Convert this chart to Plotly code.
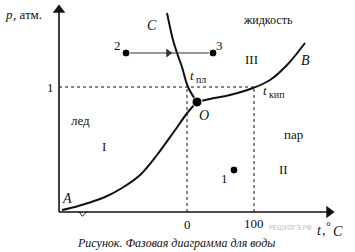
import plotly.graph_objects as go

# Schematic phase diagram of water (t in °C, p in atm)
melt_t = [-29.9, -20.9, -14.9, -7.5, 1.5, 14.9]
melt_p = [1.592, 1.376, 1.272, 1.16, 1.0, 0.88]
subl_t = [-186.6, -167.2, -147.8, -122.4, -97.0, -70.1, -44.8, -20.9, 1.5, 14.9]
subl_p = [0.016, 0.04, 0.072, 0.12, 0.192, 0.296, 0.456, 0.632, 0.8, 0.88]
boil_t = [14.9, 34.3, 64.2, 98.5, 123.9, 149.3, 176.1]
boil_p = [0.88, 0.904, 0.936, 0.992, 1.056, 1.176, 1.352]
triple = (14.9, 0.88)
state_pts = {"1": (70.1, 0.336), "2": (-91.0, 1.272), "3": (38.8, 1.272)}
x_ticks = [0, 100]
y_ticks = [1]
axis_t0, axis_t1 = -191.0, 218.0
axis_p1 = 1.656

X0, X1 = -279.1, 250.7
Y0, Y1 = -0.32, 1.696
INK = "#111111"
SERIF = "Liberation Serif, Times New Roman, serif"

def px2x(px):
    return X0 + (X1 - X0) * px / 355.0
def py2y(py):
    return Y1 - (Y1 - Y0) * py / 252.0

fig = go.Figure()
# axes
fig.add_trace(go.Scatter(x=[axis_t0, axis_t1 - 4], y=[0, 0], mode="lines",
                         line=dict(color=INK, width=1.6), showlegend=False, hoverinfo="skip"))
fig.add_trace(go.Scatter(x=[axis_t0, axis_t0], y=[0, axis_p1 - 0.03], mode="lines",
                         line=dict(color=INK, width=1.6), showlegend=False, hoverinfo="skip"))
fig.add_trace(go.Scatter(x=[axis_t1 - 6], y=[0], mode="markers",
                         marker=dict(symbol="triangle-right", size=11, color=INK),
                         showlegend=False, hoverinfo="skip"))
fig.add_trace(go.Scatter(x=[axis_t0], y=[axis_p1 - 0.04], mode="markers",
                         marker=dict(symbol="triangle-up", size=11, color=INK),
                         showlegend=False, hoverinfo="skip"))
# phase curves
for tx, py in [(melt_t, melt_p), (subl_t, subl_p), (boil_t, boil_p)]:
    fig.add_trace(go.Scatter(x=tx, y=py, mode="lines",
                             line=dict(color=INK, width=2, shape="spline", smoothing=1.0),
                             hoverinfo="skip", showlegend=False))
# dotted guides
fig.add_trace(go.Scatter(x=[axis_t0, x_ticks[1]], y=[y_ticks[0], y_ticks[0]], mode="lines",
                         line=dict(color=INK, width=1, dash="dot"), showlegend=False))
for xt in x_ticks:
    fig.add_trace(go.Scatter(x=[xt, xt], y=[0, y_ticks[0]], mode="lines",
                             line=dict(color=INK, width=1, dash="dot"), showlegend=False))
# process 2 -> 3 with arrowhead mid-way
fig.add_trace(go.Scatter(x=[state_pts["2"][0], state_pts["3"][0]],
                         y=[state_pts["2"][1], state_pts["3"][1]], mode="lines",
                         line=dict(color="#333", width=1.2), showlegend=False))
fig.add_trace(go.Scatter(x=[-28.0], y=[state_pts["2"][1]], mode="markers",
                         marker=dict(symbol="triangle-right", size=8, color="#333"),
                         showlegend=False))
# points
fig.add_trace(go.Scatter(x=[state_pts[k][0] for k in state_pts] + [triple[0]],
                         y=[state_pts[k][1] for k in state_pts] + [triple[1]],
                         mode="markers", marker=dict(color="#000000", size=[8, 8, 8, 10], opacity=1),
                         showlegend=False))
# axis break squiggle
fig.add_trace(go.Scatter(x=[-163, -159, -157, -155, -152, -149],
                         y=[0.0, -0.01, -0.03, -0.03, -0.01, 0.0], mode="lines",
                         line=dict(color=INK, width=1, shape="spline"), showlegend=False))

anns = []
def label(x, y, text, size=13, xanchor="center", italic=False, color=INK, family=SERIF):
    anns.append(dict(x=x, y=y, xref="x", yref="y", text=text, showarrow=False,
                     xanchor=xanchor, yanchor="middle", borderpad=0,
                     font=dict(family=family, size=size, color=color,
                               style="italic" if italic else "normal")))

# axis titles (italic symbol + plain rest)
label(px2x(4), py2y(14), "p", size=13, xanchor="left", italic=True)
label(px2x(12), py2y(14), ", атм.", size=13, xanchor="left")
label(px2x(316), py2y(230), "t", size=14, xanchor="left", italic=True)
label(px2x(321), py2y(230), ",", size=14, xanchor="left")
label(px2x(325), py2y(226), "°", size=12, xanchor="left")
label(px2x(332), py2y(231), "C", size=14, xanchor="left", italic=True)
# ticks
label(px2x(55), y_ticks[0], "1", size=13, xanchor="right")
label(x_ticks[0], py2y(224), "0", size=13)
label(x_ticks[1], py2y(223), "100", size=13)
label(px2x(313), py2y(228), "РЕШУОГЭ.РФ", size=7, color="#bbbbbb",
      xanchor="right", family="DejaVu Sans Condensed, DejaVu Sans")
# region/curve labels
label(px2x(152), py2y(25), "C", size=14, italic=True)
label(px2x(268), py2y(20), "жидкость", size=12)
label(px2x(117), py2y(45), "2", size=13)
label(px2x(219), py2y(45), "3", size=13)
label(px2x(251), py2y(59), "III", size=13)
label(px2x(305), py2y(60), "B", size=14, italic=True)
label(px2x(189), py2y(75), "t", size=13, xanchor="left", italic=True)
label(px2x(195), py2y(79), "пл", size=10, xanchor="left")
label(px2x(262), py2y(90), "t", size=13, xanchor="left", italic=True)
label(px2x(268), py2y(94), "кип", size=10, xanchor="left")
label(px2x(204), py2y(115), "O", size=14, italic=True)
label(px2x(80), py2y(120), "лед", size=13)
label(px2x(104), py2y(146), "I", size=13)
label(px2x(293), py2y(134), "пар", size=13)
label(px2x(283), py2y(169), "II", size=13)
label(px2x(224), py2y(178), "1", size=13)
label(px2x(67), py2y(198), "A", size=14, italic=True)
label(px2x(176), py2y(243), "Рисунок. Фазовая диаграмма для воды", size=12, italic=True)

fig.update_layout(
    width=355, height=252, margin=dict(l=0, r=0, t=0, b=0),
    paper_bgcolor="white", plot_bgcolor="white", showlegend=False,
    xaxis=dict(range=[X0, X1], visible=False, fixedrange=True),
    yaxis=dict(range=[Y0, Y1], visible=False, fixedrange=True),
    annotations=anns,
)
fig.write_html("out.html")
